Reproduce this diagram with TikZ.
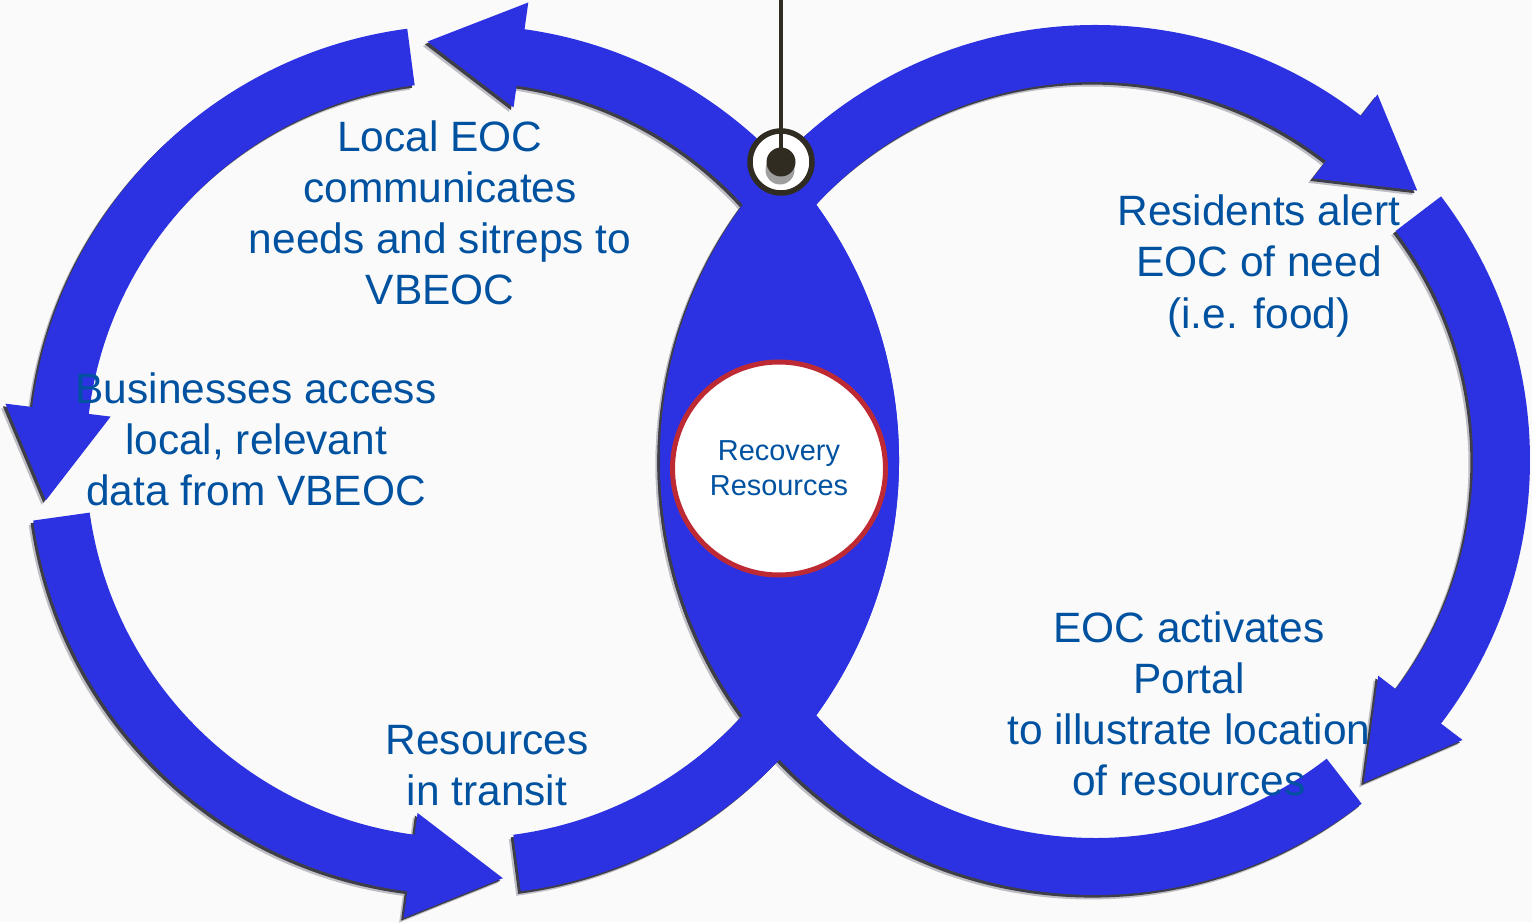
\documentclass[tikz,border=0pt]{standalone}
\usepackage{fontspec}
\setmainfont{Liberation Sans}
\usetikzlibrary{calc}
\definecolor{bgc}{RGB}{250,250,250}
\definecolor{loopblue}{RGB}{44,50,226}
\definecolor{shadowc}{RGB}{62,62,72}
\definecolor{shadowlt}{RGB}{190,190,196}
\definecolor{txtblue}{RGB}{0,82,160}
\definecolor{ringred}{RGB}{190,42,52}
\definecolor{darkc}{RGB}{48,44,34}
% annular sector: cx cy start end colour
\newcommand{\arcseg}[5]{%
  \begin{scope}[shift={(#1,#2)}]
    \fill[#5] (#3:435bp) arc[start angle=#3,end angle=#4,radius=435bp]
      -- (#4:378bp) arc[start angle=#4,end angle=#3,radius=378bp] -- cycle;
  \end{scope}}
% arrow head: cx cy base tip colour
\newcommand{\arrhead}[5]{%
  \begin{scope}[shift={(#1,#2)}]
    \fill[#5] (#3:462bp) -- (#4:420bp) -- (#3:356bp) -- cycle;
  \end{scope}}
\newcommand{\loopsfig}[1]{%
  % left loop (counter-clockwise)
  \arcseg{464}{462}{97.5}{173.5}{#1}
  \arrhead{464}{462}{173}{185.5}{#1}
  \arcseg{464}{462}{188}{263}{#1}
  \arrhead{464}{462}{262.5}{275.3}{#1}
  \arcseg{464}{462}{277.5}{442.5}{#1}
  \arrhead{464}{462}{442}{455}{#1}
  % right loop (clockwise)
  \arcseg{1095}{462}{51.8}{307.8}{#1}
  \arrhead{1095}{462}{52.3}{39.9}{#1}
  \arcseg{1095}{462}{-37.8}{37.3}{#1}
  \arrhead{1095}{462}{-37.3}{-50.2}{#1}
  % central lens
  \begin{scope}
    \clip (464,462) circle[radius=435bp];
    \fill[#1] (1095,462) circle[radius=435bp];
  \end{scope}}
\tikzset{
  steptext/.style={text=txtblue, align=center, inner sep=0pt,
    font=\fontsize{42.6}{51.4}\selectfont},
}
\begin{document}
\begin{tikzpicture}[x=1bp,y=1bp]
  \fill[bgc] (0,0) rectangle (1532,922);
  \useasboundingbox (0,0) rectangle (1532,922);
  % shadows
  \begin{scope}[shift={(-4.5,-4.5)}]\loopsfig{shadowlt}\end{scope}
  \begin{scope}[shift={(-2.6,-2.6)}]\loopsfig{shadowc}\end{scope}
  % loops
  \loopsfig{loopblue}
  % centre circle
  \node[circle, draw=ringred, line width=5bp, fill=white, minimum size=213bp,
        inner sep=0pt] (core) at (779,453.5) {};
  \node[text=txtblue, align=center, inner sep=0pt,
        font=\fontsize{29}{35}\selectfont] (coretext) at (core.center)
        {Recovery\\Resources};
  % pin at the top crossing
  \coordinate (pintop) at (781,922);
  \node[circle, draw=darkc, line width=5.5bp, fill=white, minimum size=62bp,
        inner sep=0pt] (pin) at (781,760) {};
  \fill[gray!75] ($(pin.center)+(-1,-8)$) circle[radius=14.5bp];
  \fill[darkc] (pin.center) circle[radius=14.5bp];
  \draw[darkc, line width=4.5bp] (pintop) -- (pin.center);
  % labels
  \node[steptext] (local) at (440,709)
    {Local EOC\\communicates\\needs and sitreps to\\VBEOC};
  \node[steptext] (business) at (256,482.5)
    {Businesses access\\local, relevant\\data from VBEOC};
  \node[steptext] (transit) at (487,156.5) {Resources\\in transit};
  \node[steptext] (residents) at (1259,656)
    {Residents alert\\EOC of need\\(i.e. food)};
  \node[steptext] (portal) at (1189,218)
    {EOC activates\\Portal\\to illustrate location\\of resources};
\end{tikzpicture}
\end{document}
